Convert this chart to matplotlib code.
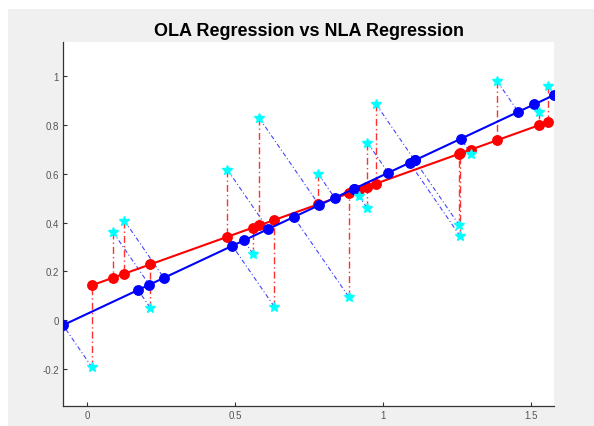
import matplotlib
matplotlib.use("Agg")
import matplotlib.pyplot as plt
from matplotlib.patches import Rectangle
import numpy as np

# sample points
x_pts = [0.017, 0.087, 0.126, 0.213, 0.474, 0.560, 0.582, 0.632, 0.780, 0.883,
         0.917, 0.945, 0.947, 0.975, 1.257, 1.260, 1.297, 1.384, 1.527, 1.555]
y_pts = [-0.193, 0.362, 0.408, 0.052, 0.616, 0.273, 0.827, 0.056, 0.600, 0.097,
         0.509, 0.461, 0.727, 0.886, 0.389, 0.344, 0.682, 0.980, 0.852, 0.960]

# fitted lines: (intercept, slope)
ola_fit = (0.136, 0.434)
nla_fit = (0.026, 0.568)

x_ticks = [0, 0.5, 1, 1.5]
y_ticks = [-0.2, 0, 0.2, 0.4, 0.6, 0.8, 1]
y_limits = (-0.351, 1.139)

x = np.array(x_pts)
y = np.array(y_pts)

# vertical projections onto the OLA line
a1, b1 = ola_fit
xr = x
yr = a1 + b1 * x

# orthogonal projections onto the NLA line
a2, b2 = nla_fit
xb = (x + b2 * (y - a2)) / (1 + b2 ** 2)
yb = a2 + b2 * xb

fig = plt.figure(figsize=(5.94, 4.27), dpi=100, facecolor="white")
bg = Rectangle((8 / 594, 0), 1, 1 - 10 / 427, transform=fig.transFigure,
               facecolor="#f0f0f0", edgecolor="none", zorder=-10)
fig.patches.append(bg)
ax = fig.add_axes([63 / 594, 1 - 407 / 427, 491 / 594, 364 / 427])
ax.set_facecolor("white")

dashdot_r = (0, (5, 2.2, 1, 2.2))
dashdot_b = (0, (4, 2.2, 1, 2.2))

for i in range(len(x)):
    ax.plot([x[i], xr[i]], [y[i], yr[i]], color="#ff3030",
            linestyle=dashdot_r, linewidth=1.0, zorder=1)
    ax.plot([x[i], xb[i]], [y[i], yb[i]], color="#4545ff",
            linestyle=dashdot_b, linewidth=0.8, zorder=1)

order_r = np.argsort(xr)
ax.plot(xr[order_r], yr[order_r], color="red", linewidth=1.5, zorder=2)
ax.plot(xr, yr, "o", color="red", markersize=6.8, zorder=3)

order_b = np.argsort(xb)
ax.plot(xb[order_b], yb[order_b], color="blue", linewidth=1.5, zorder=4)
ax.plot(xb, yb, "o", color="blue", markersize=6.8, zorder=5)

ax.plot(x, y, "*", color="cyan", markersize=7.8, zorder=6)

xmin = min(xb.min(), x.min())
xmax = max(xb.max(), x.max())
ax.set_xlim(xmin, xmax)
ax.set_ylim(*y_limits)
ax.set_xticks(x_ticks)
ax.set_xticklabels(["0", "0.5", "1", "1.5"])
ax.set_yticks(y_ticks)
ax.set_yticklabels(["-0.2", "0", "0.2", "0.4", "0.6", "0.8", "1"])

for side in ("top", "right"):
    ax.spines[side].set_visible(False)
for side in ("left", "bottom"):
    ax.spines[side].set_color("#333333")
    ax.spines[side].set_linewidth(0.9)

ax.tick_params(direction="in", length=3, width=0.8, color="#333333",
               labelsize=7, labelcolor="#555555", pad=3)
for lab in ax.get_xticklabels() + ax.get_yticklabels():
    lab.set_family("Liberation Sans")

ax.set_title("OLA Regression vs NLA Regression", fontsize=13,
             fontweight="bold", family="Liberation Sans", pad=5)

fig.savefig("out.png", dpi=100, facecolor=fig.get_facecolor())
